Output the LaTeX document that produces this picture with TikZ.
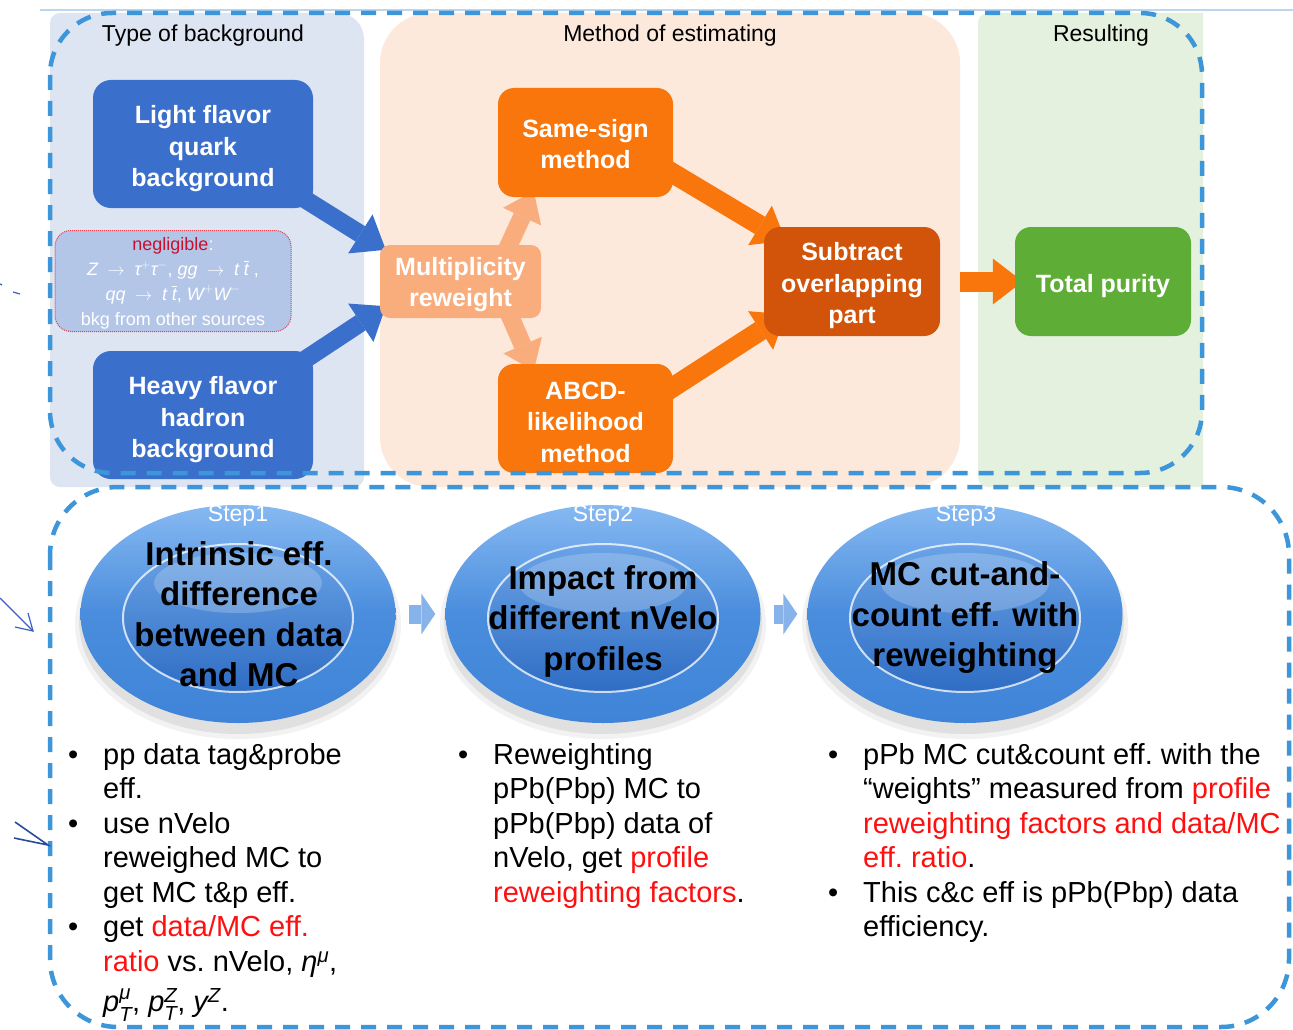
\documentclass[tikz,border=0pt]{standalone}
\usepackage{amsmath}
\usepackage{fontspec}
\setmainfont{Liberation Sans}
\usetikzlibrary{arrows.meta,shapes.geometric,calc}
\pgfdeclarelayer{back}
\pgfdeclarelayer{mid}
\pgfsetlayers{back,mid,main}
\definecolor{topline}{HTML}{BCD6EF}
\definecolor{panelblue}{HTML}{DDE4F2}
\definecolor{panelorange}{HTML}{FDE9DC}
\definecolor{panelgreen}{HTML}{E4F1DF}
\definecolor{boxblue}{HTML}{3A6FCB}
\definecolor{neglfill}{HTML}{B3C6E8}
\definecolor{neglred}{HTML}{C8102E}
\definecolor{neglborder}{HTML}{E0404E}
\definecolor{multorange}{HTML}{F9AC7C}
\definecolor{boxorange}{HTML}{F8760C}
\definecolor{suborange}{HTML}{D1540A}
\definecolor{boxgreen}{HTML}{5DAD36}
\definecolor{dashblue}{HTML}{3D95DA}
\definecolor{ringtop}{HTML}{86B9F2}
\definecolor{ringmid}{HTML}{4A8DDD}
\definecolor{ringbot}{HTML}{3F84D8}
\definecolor{innertop}{HTML}{6AA3E6}
\definecolor{innerbot}{HTML}{2F6DC4}
\definecolor{smallarrow}{HTML}{86B3EA}
\definecolor{redtext}{HTML}{FF1010}
\definecolor{ink}{HTML}{3C5FC4}
\definecolor{inkdark}{HTML}{2A4A9E}
\newcommand\boxfont{\fontsize{25}{31.5}\selectfont\bfseries}
\newcommand\ellfont{\fontsize{33}{40.5}\selectfont\bfseries}
\newcommand\bulfont{\fontsize{29}{34.5}\selectfont\frenchspacing}
\newcommand\bul{\makebox[35pt][l]{\textbullet}}
\newcommand\ind{\hspace*{35pt}}
\newcommand\red[1]{\textcolor{redtext}{#1}}
\newcommand\iv[1]{\textit{#1}}
\newcommand\tp[1]{\rule{0pt}{#1}}
\begin{document}
\begin{tikzpicture}[x=1pt,y=-1pt,
  bgbox/.style={rectangle, rounded corners=18pt, fill=boxblue, text=white, font=\boxfont,
    align=center, inner sep=0pt, minimum width=220pt, minimum height=128pt},
  obox/.style={rectangle, rounded corners=16pt, fill=boxorange, text=white, font=\boxfont,
    align=center, inner sep=0pt, minimum width=175pt, minimum height=109pt},
  title/.style={font=\fontsize{23}{27}\selectfont, text=black, inner sep=0pt},
  bluearrow/.style={line width=18pt, draw=boxblue, -{Triangle[length=30pt,width=46pt,line width=0pt]}},
  lorarrow/.style={line width=18pt, draw=multorange, -{Triangle[length=28pt,width=42pt,line width=0pt]}},
  orarrow/.style={line width=20pt, draw=boxorange, -{Triangle[length=30pt,width=46pt,line width=0pt]}},
  steparrow/.style={line width=19pt, draw=smallarrow, -{Triangle[length=14pt,width=41pt,line width=0pt]}},
  ringnode/.style={ellipse, minimum width=315pt, minimum height=218pt, inner sep=0pt,
    top color=ringtop, bottom color=ringbot, middle color=ringmid},
  ringtext/.style={font=\ellfont, text=black, align=center, inner sep=0pt},
  steplabel/.style={font=\fontsize{23}{27}\selectfont, text=white, inner sep=0pt},
  bullets/.style={font=\bulfont, align=left, anchor=north west, inner sep=0pt, text=black},
  dashframe/.style={draw=dashblue, line width=4.5pt, dash pattern=on 15pt off 11pt},
  hand/.style={draw=ink, line width=1.2pt}
]
\useasboundingbox (0,0) rectangle (1293,1030);

% ---------- background panels ----------
\begin{pgfonlayer}{back}
\fill[white] (0,0) rectangle (1293,1030);
\draw[topline, line width=1.5pt] (40,10) -- (1293,10);
\fill[panelblue] (50,487) [rounded corners=10pt] -- (50,13) [rounded corners=26pt] -- (364,13) [rounded corners=10pt] -- (364,487) -- cycle;
\fill[panelorange, rounded corners=50pt] (380,13) rectangle (960,487);
\fill[panelgreen] (1203,487) [rounded corners=10pt] -- (978,487) -- (978,13) [sharp corners] -- (1203,13) -- cycle;
\end{pgfonlayer}

% ---------- titles ----------
\node[title] (t1) at (203,36) {Type of background};
\node[title] (t2) at (670,36) {Method of estimating};
\node[title] (t3) at (1101,36) {Resulting};

% ---------- top boxes ----------
\node[bgbox] (light) at (203,144) {\tp{28pt}Light flavor\\quark\\background};
\node[bgbox] (heavy) at (203,415) {\tp{28pt}Heavy flavor\\hadron\\background};
\node[rectangle, rounded corners=16pt, fill=neglfill, draw=neglborder, densely dotted, line width=1pt,
  minimum width=236pt, minimum height=101pt, inner sep=0pt, text=white, align=center,
  font=\fontsize{18}{25}\selectfont] (negl) at (173,281)
  {\tp{17pt}\textcolor{neglred}{negligible}:\\
   $\iv{Z}\;\rightarrow\;\iv{τ}^{+}\iv{τ}^{-}$, $\iv{gg}\;\rightarrow\;\iv{t}\;\overline{\iv{t}}$\;,\\
   $\iv{qq}\;\rightarrow\;\iv{t}\;\overline{\iv{t}}$, $\iv{W}^{+}\iv{W}^{-}$\\
   bkg from other sources};
\node[rectangle, rounded corners=10pt, fill=multorange, text=white, font=\boxfont, align=center,
  inner sep=0pt, minimum width=161pt, minimum height=73pt] (mult) at (460.5,281.5) {\tp{24pt}Multiplicity\\reweight};
\node[obox] (same) at (585.5,142.5) {\tp{21.5pt}Same-sign\\method};
\node[obox] (abcd) at (585.5,418.5) {\tp{24.5pt}ABCD-\\likelihood\\method};
\node[obox, fill=suborange, minimum width=176pt] (sub) at (852,281.5) {\tp{26.5pt}Subtract\\overlapping\\part};
\node[obox, fill=boxgreen, minimum width=176pt] (total) at (1103,281.5) {\tp{26.5pt}Total purity};

% ---------- top arrows ----------
\begin{pgfonlayer}{mid}
\draw[bluearrow] ([shift={(-10,-10)}]light.south east) -- ([shift={(6,5)}]mult.north west);
\draw[bluearrow] ([shift={(-10,10)}]heavy.north east) -- ([shift={(6,-12)}]mult.south west);
\draw[lorarrow] ([shift={(-34,4)}]mult.north east) -- ([shift={(36,-6)}]same.south west);
\draw[lorarrow] ([shift={(-32,-4)}]mult.south east) -- ([shift={(36,7)}]abcd.north west);
\draw[orarrow] ([shift={(-10,25)}]same.east) -- ([shift={(22,14)}]sub.north west);
\draw[orarrow] ([shift={(-10,-25)}]abcd.east) -- ([shift={(22,-22)}]sub.south west);
\draw[orarrow] ([xshift=20pt]sub.east) -- ([xshift=8pt]total.west);
\end{pgfonlayer}

% ---------- step rings ----------
\foreach \cx/\nm in {238/s1, 603/s2, 965/s3}{
  \fill[black, opacity=0.05] (\cx,624) ellipse [x radius=163pt, y radius=115pt];
  \fill[black, opacity=0.07] (\cx,622) ellipse [x radius=159pt, y radius=112pt];
  \node[ringnode] (\nm) at (\cx,614) {};
  \shade[top color=innertop, bottom color=innerbot] (\cx,618) ellipse [x radius=115pt, y radius=74pt];
  \draw[white, opacity=0.75, line width=2pt] (\cx,618) ellipse [x radius=115pt, y radius=74pt];
  \fill[white, opacity=0.2] (\cx,583) ellipse [x radius=84pt, y radius=30pt];
}
\node[steplabel] (l1) at (238,516) {Step1};
\node[steplabel] (l2) at (603,516) {Step2};
\node[steplabel] (l3) at (966,516) {Step3};
\node[ringtext] (r1) at (239,614) {Intrinsic eff.\\difference\\between data\\and MC};
\node[ringtext] (r2) at (603,621) {Impact from\\different nVelo\\profiles};
\node[ringtext] (r3) at (965,618) {MC cut-and-\\count eff. with\\reweighting};
\draw[steparrow] ([xshift=13pt]s1.east) -- ([xshift=-10pt]s2.west);
\draw[steparrow] ([xshift=13pt]s2.east) -- ([xshift=-10pt]s3.west);

% ---------- bullet texts ----------
\node[bullets] (c1) at (68,743) {\bul pp data tag\&probe\\
\ind eff.\\
\bul use nVelo\\
\ind reweighed MC to\\
\ind get MC t\&p eff.\\
\bul get \red{data/MC eff.}\\
\ind \red{ratio} vs. nVelo, $\iv{η}^{\iv{μ}}$,\\[6pt]
\ind $\iv{p}^{\iv{μ}}_{\iv{T}}$, $\iv{p}^{\iv{Z}}_{\iv{T}}$, $\iv{y}^{\iv{Z}}$.};
\node[bullets] (c2) at (458,743) {\bul Reweighting\\
\ind pPb(Pbp) MC to\\
\ind pPb(Pbp) data of\\
\ind nVelo, get \red{profile}\\
\ind \red{reweighting factors}.};
\node[bullets] (c3) at (828,743) {\bul pPb MC cut\&count eff. with the\\
\ind “weights” measured from \red{profile}\\
\ind \red{reweighting factors and data/MC}\\
\ind \red{eff. ratio}.\\
\bul This c\&c eff is pPb(Pbp) data\\
\ind efficiency.};

% ---------- dashed frames ----------
\draw[dashframe, rounded corners=62pt] (50,13) rectangle (1202,473);
\draw[dashframe, rounded corners=68pt] (50,487) rectangle (1289,1027);

% ---------- hand-drawn marks ----------
\draw[hand] (0,284) -- (2,285);
\draw[hand] (13,292) -- (20,294);
\draw[hand] (0,598) -- (33,631);
\draw[hand] (15,627) -- (33,631) -- (28,613);
\draw[hand, draw=inkdark, line width=1.6pt] (15,822) -- (48,845) -- (14,838);
\end{tikzpicture}
\end{document}
